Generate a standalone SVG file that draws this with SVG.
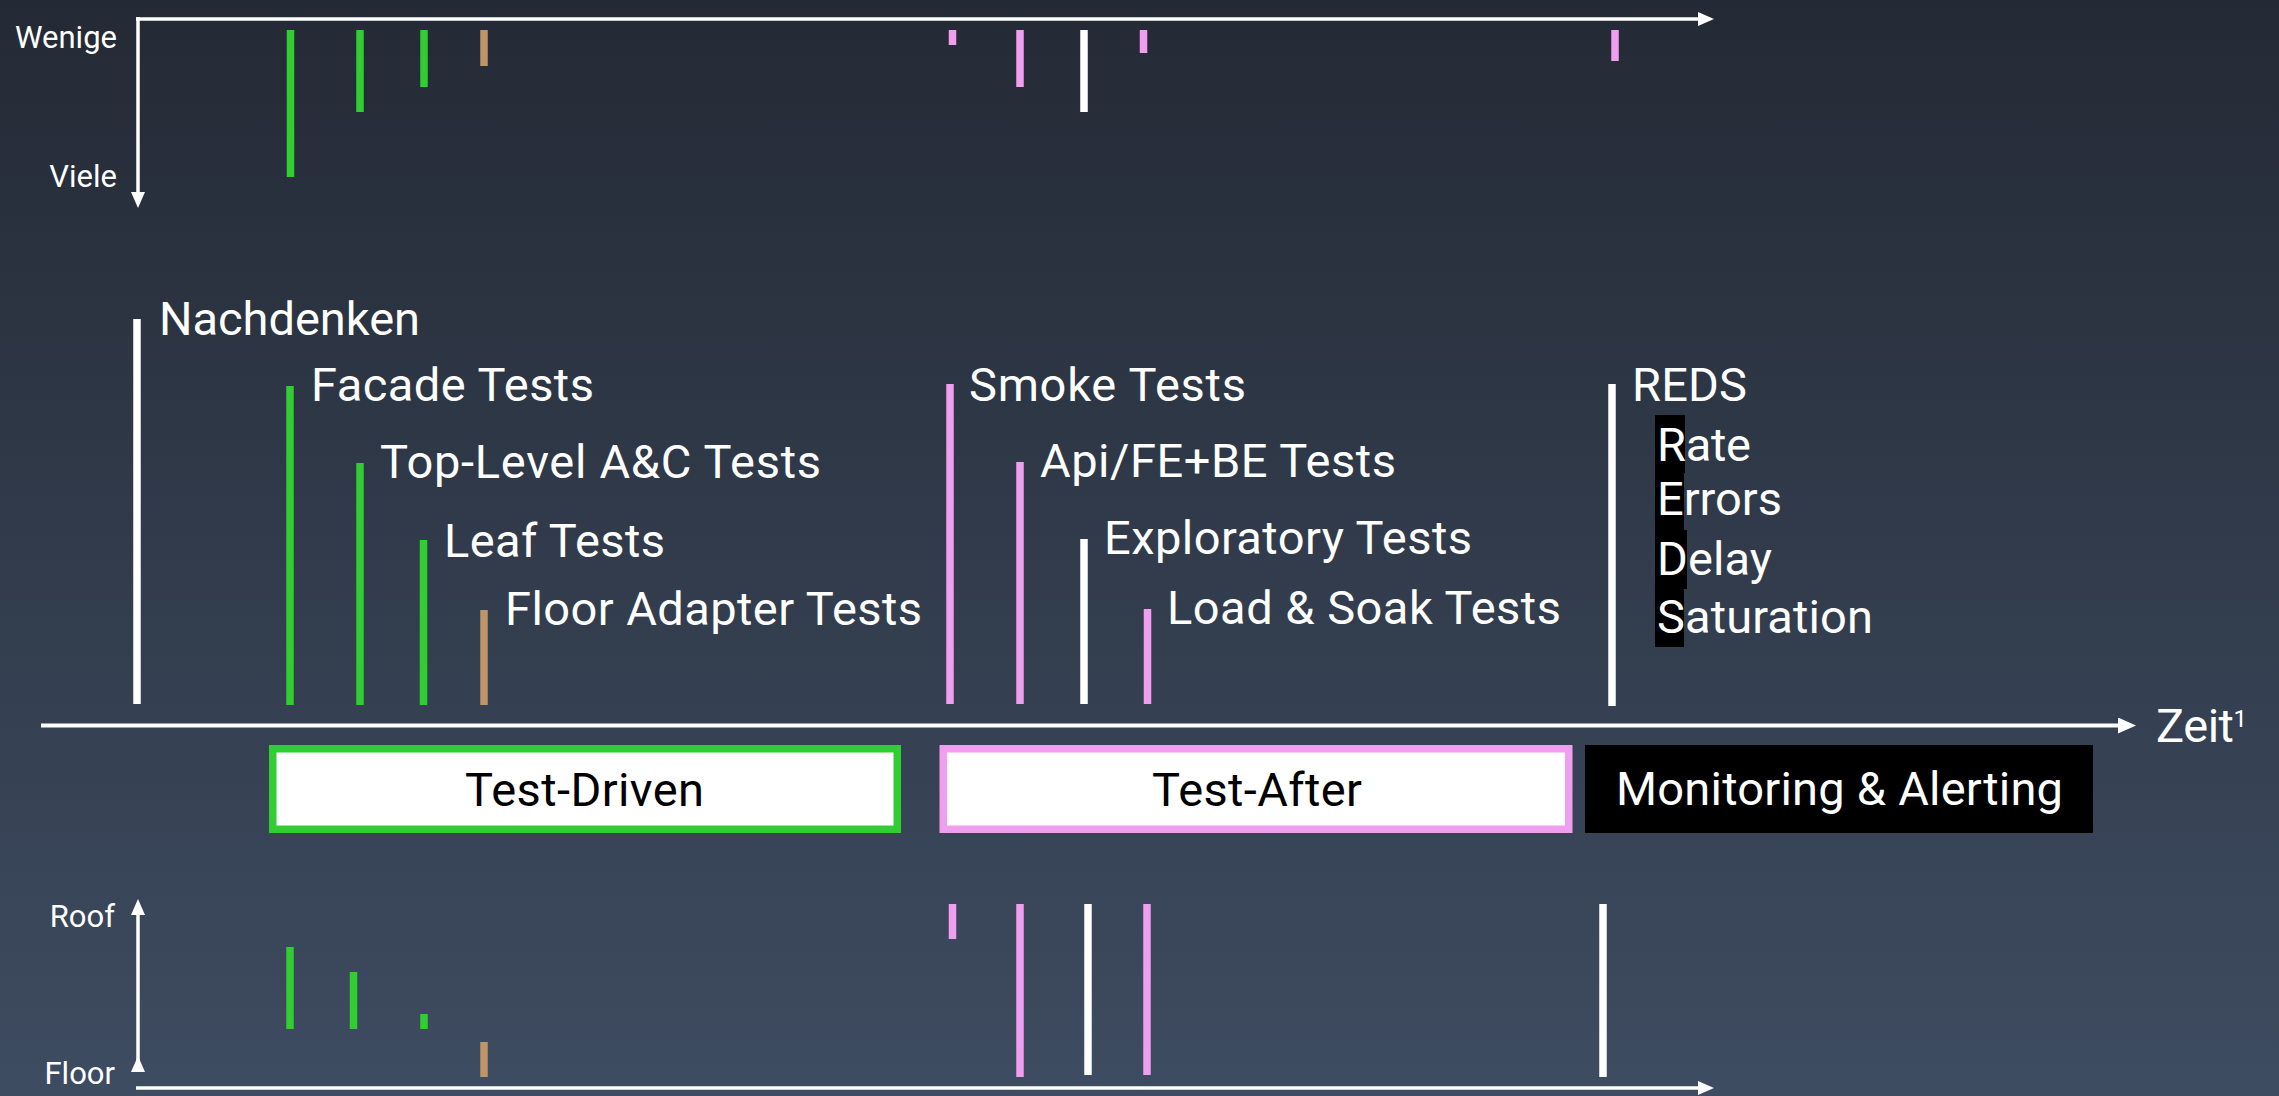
<svg xmlns="http://www.w3.org/2000/svg" width="2279" height="1096" viewBox="0 0 2279 1096">
  <defs>
    <linearGradient id="bg" x1="0" y1="0" x2="0" y2="1">
      <stop offset="0" stop-color="#242a35"/>
      <stop offset="1" stop-color="#3e4c61"/>
    </linearGradient>
    <marker id="arrowSmall" viewBox="0 0 16 14" refX="0" refY="7" markerWidth="16" markerHeight="14" markerUnits="userSpaceOnUse" orient="auto">
      <path d="M0,0 L16,7 L0,14 Z" fill="#ffffff"/>
    </marker>
    <marker id="arrowMain" viewBox="0 0 18 16" refX="0" refY="8" markerWidth="18" markerHeight="16" markerUnits="userSpaceOnUse" orient="auto">
      <path d="M0,0 L18,8 L0,16 Z" fill="#ffffff"/>
    </marker>
  </defs>
  <style>
    .axis { stroke: #ffffff; stroke-width: 3.5; fill: none; }
    .axis-main { stroke: #ffffff; stroke-width: 4; fill: none; }
    .bar { stroke-width: 7.5; }
    .green { stroke: #32cd32; }
    .pink { stroke: #f09ef0; }
    .tan { stroke: #bd9567; }
    .white { stroke: #ffffff; }
    .label { font-family: Roboto, "Liberation Sans", sans-serif; font-size: 47px; fill: #ffffff; }
    .small { font-family: Roboto, "Liberation Sans", sans-serif; font-size: 31px; fill: #ffffff; }
    .ink { fill: #000000; }
    .dark { fill: #000000; }
  </style>

  <rect x="0" y="0" width="2279" height="1096" fill="url(#bg)"/>

  <!-- top chart: how many tests -->
  <g id="chart-count">
    <path class="axis" d="M136,19 H1698" marker-end="url(#arrowSmall)"/>
    <path class="axis" d="M138,17 V192" marker-end="url(#arrowSmall)"/>
    <text class="small" x="117" y="48" text-anchor="end">Wenige</text>
    <text class="small" x="117" y="187" text-anchor="end">Viele</text>
    <line class="bar green" x1="290.5" y1="30" x2="290.5" y2="177"/>
    <line class="bar green" x1="360" y1="30" x2="360" y2="112"/>
    <line class="bar green" x1="424" y1="30" x2="424" y2="87"/>
    <line class="bar tan" x1="484" y1="30" x2="484" y2="66"/>
    <line class="bar pink" x1="952.5" y1="30" x2="952.5" y2="45"/>
    <line class="bar pink" x1="1020" y1="30" x2="1020" y2="87"/>
    <line class="bar white" x1="1084" y1="30" x2="1084" y2="112"/>
    <line class="bar pink" x1="1143.5" y1="30" x2="1143.5" y2="53"/>
    <line class="bar pink" x1="1615" y1="30" x2="1615" y2="61"/>
  </g>

  <!-- connectors: main time axis -->
  <g id="connectors">
    <path class="axis-main" d="M41,725.5 H2118" marker-end="url(#arrowMain)"/>
  </g>
  <g id="time-label">
    <text class="label" x="2156" y="742"><tspan textLength="78">Zeit</tspan><tspan font-size="24" dy="-15">1</tspan></text>
  </g>

  <!-- activities along the time axis -->
  <g id="nachdenken">
    <line class="bar white" x1="137" y1="319" x2="137" y2="704"/>
    <text class="label" x="159" y="335" textLength="261">Nachdenken</text>
  </g>
  <g id="facade-tests">
    <line class="bar green" x1="290" y1="386" x2="290" y2="705"/>
    <text class="label" x="311" y="401" textLength="283">Facade Tests</text>
  </g>
  <g id="top-level-tests">
    <line class="bar green" x1="360" y1="463" x2="360" y2="705"/>
    <text class="label" x="380" y="478" textLength="441">Top-Level A&amp;C Tests</text>
  </g>
  <g id="leaf-tests">
    <line class="bar green" x1="423.5" y1="540" x2="423.5" y2="705"/>
    <text class="label" x="444" y="557" textLength="221">Leaf Tests</text>
  </g>
  <g id="floor-adapter-tests">
    <line class="bar tan" x1="484" y1="610" x2="484" y2="705"/>
    <text class="label" x="505" y="625" textLength="417">Floor Adapter Tests</text>
  </g>
  <g id="smoke-tests">
    <line class="bar pink" x1="950" y1="384" x2="950" y2="704"/>
    <text class="label" x="969" y="401" textLength="277">Smoke Tests</text>
  </g>
  <g id="api-tests">
    <line class="bar pink" x1="1020" y1="462" x2="1020" y2="704"/>
    <text class="label" x="1040" y="477" textLength="356">Api/FE+BE Tests</text>
  </g>
  <g id="exploratory-tests">
    <line class="bar white" x1="1084" y1="539" x2="1084" y2="704"/>
    <text class="label" x="1104" y="554" textLength="368">Exploratory Tests</text>
  </g>
  <g id="load-soak-tests">
    <line class="bar pink" x1="1147.5" y1="609" x2="1147.5" y2="704"/>
    <text class="label" x="1167" y="624" textLength="394">Load &amp; Soak Tests</text>
  </g>
  <g id="reds">
    <line class="bar white" x1="1612" y1="384" x2="1612" y2="706"/>
    <text class="label" x="1632" y="401" textLength="115">REDS</text>
    <rect class="dark" x="1655" y="415" width="30" height="58"/>
    <rect class="dark" x="1655" y="473" width="29" height="57"/>
    <rect class="dark" x="1655" y="530" width="32" height="59"/>
    <rect class="dark" x="1655" y="589" width="29" height="58"/>
    <text class="label" x="1657" y="461" textLength="94">Rate</text>
    <text class="label" x="1657" y="515" textLength="125">Errors</text>
    <text class="label" x="1657" y="575" textLength="115">Delay</text>
    <text class="label" x="1657" y="633" textLength="216">Saturation</text>
  </g>

  <!-- phases -->
  <g id="test-driven">
    <rect x="272.75" y="748.75" width="624.5" height="80.5" fill="#ffffff" stroke="#32cd32" stroke-width="7.5"/>
    <text class="label ink" x="465" y="806" textLength="239">Test-Driven</text>
  </g>
  <g id="test-after">
    <rect x="943.25" y="748.75" width="625.5" height="80.5" fill="#ffffff" stroke="#f09ef0" stroke-width="7.5"/>
    <text class="label ink" x="1152" y="806" textLength="210">Test-After</text>
  </g>
  <g id="monitoring">
    <rect x="1585" y="745" width="508" height="88" fill="#000000"/>
    <text class="label" x="1616" y="805" textLength="447">Monitoring &amp; Alerting</text>
  </g>

  <!-- bottom chart: level from floor to roof -->
  <g id="chart-level">
    <path class="axis" d="M138,1072 V915" marker-start="url(#arrowSmall)" marker-end="url(#arrowSmall)"/>
    <path class="axis" d="M136,1088 H1698" marker-end="url(#arrowSmall)"/>
    <text class="small" x="115" y="927" text-anchor="end">Roof</text>
    <text class="small" x="115" y="1084" text-anchor="end">Floor</text>
    <line class="bar green" x1="290" y1="947" x2="290" y2="1029"/>
    <line class="bar green" x1="353.5" y1="972" x2="353.5" y2="1029"/>
    <line class="bar green" x1="424" y1="1014" x2="424" y2="1029"/>
    <line class="bar tan" x1="484" y1="1042" x2="484" y2="1077"/>
    <line class="bar pink" x1="952.5" y1="904" x2="952.5" y2="939"/>
    <line class="bar pink" x1="1020" y1="904" x2="1020" y2="1077"/>
    <line class="bar white" x1="1088" y1="904" x2="1088" y2="1075"/>
    <line class="bar pink" x1="1147" y1="904" x2="1147" y2="1075"/>
    <line class="bar white" x1="1603" y1="904" x2="1603" y2="1077"/>
  </g>
</svg>
